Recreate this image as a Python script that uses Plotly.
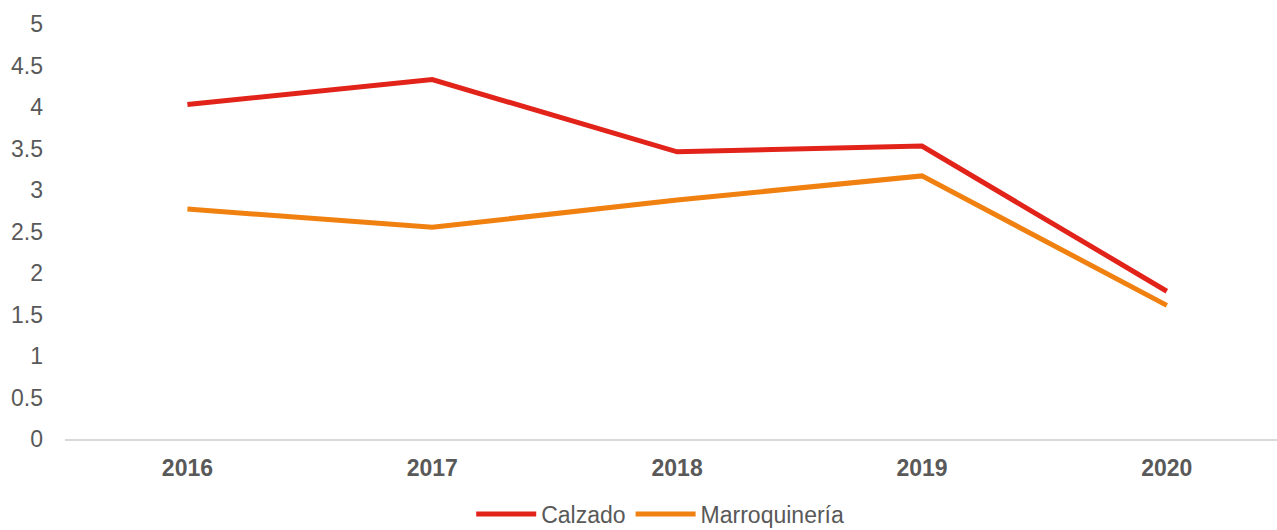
import plotly.graph_objects as go

years = ["2016", "2017", "2018", "2019", "2020"]
calzado = [4.03, 4.33, 3.46, 3.53, 1.78]
marroquineria = [2.77, 2.55, 2.88, 3.17, 1.61]
y_ticks = [0, 0.5, 1, 1.5, 2, 2.5, 3, 3.5, 4, 4.5, 5]

fig = go.Figure()
fig.add_trace(go.Scatter(x=years, y=calzado, name="Calzado", mode="lines",
                         line=dict(color="#E2231A", width=5)))
fig.add_trace(go.Scatter(x=years, y=marroquineria, name="Marroquinería", mode="lines",
                         line=dict(color="#F08010", width=5)))

fig.update_layout(
    width=1277, height=530,
    margin=dict(l=65, r=0, t=24, b=91),
    paper_bgcolor="white", plot_bgcolor="white",
    font=dict(family="Liberation Sans, Arial, sans-serif", color="#595959", size=23),
    legend=dict(orientation="h", xref="container", yref="container",
                x=0.517, xanchor="center", y=0.03, yanchor="middle",
                font=dict(size=23, color="#595959"), itemwidth=60, tracegroupgap=0),
    showlegend=True,
)
fig.update_xaxes(type="category", range=[-0.5, 4.45], showgrid=False,
                 showline=True, linecolor="#D9D9D9", linewidth=2,
                 ticks="", tickfont=dict(size=23, color="#595959", family="Liberation Sans, Arial, sans-serif", weight="bold"),
                 ticklabelstandoff=7)
fig.update_yaxes(range=[0, 5], tickvals=y_ticks, ticktext=[f"{v:g}" for v in y_ticks],
                 showgrid=False, zeroline=False, showline=False, ticks="",
                 tickfont=dict(size=23, color="#595959"), ticklabelstandoff=21)

fig.write_html("out.html", config={"displayModeBar": False},
               post_script="document.body.style.margin='0';document.body.style.overflow='hidden';")
